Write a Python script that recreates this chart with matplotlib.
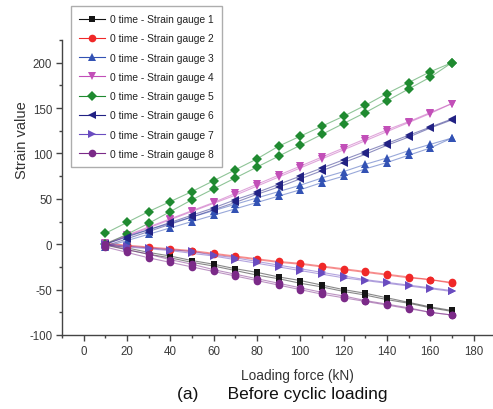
import matplotlib.pyplot as plt
from matplotlib.ticker import MultipleLocator

plt.rcParams['font.family'] = ['Liberation Sans', 'DejaVu Sans']
plt.rcParams['axes.unicode_minus'] = False

# loading force (kN)
force = [10, 20, 30, 40, 50, 60, 70, 80, 90, 100, 110, 120, 130, 140, 150, 160, 170]

# two runs per gauge (first pass / second pass)
g1_a = [0, -4, -9, -13, -18, -22, -27, -31, -36, -40, -45, -50, -54, -59, -64, -69, -73]
g1_b = [-1, -6, -11, -15, -20, -24, -29, -34, -38, -43, -47, -52, -56, -61, -65, -70, -74]
g2_a = [0, -2, -4, -6, -8, -11, -14, -17, -20, -22, -25, -28, -31, -34, -37, -39, -42]
g2_b = [1, -1, -3, -5, -7, -10, -13, -16, -19, -21, -24, -27, -30, -33, -36, -39, -43]
g3_a = [-3, 4, 11, 18, 25, 32, 39, 46, 53, 60, 68, 75, 83, 90, 98, 106, 117]
g3_b = [0, 9, 16, 23, 30, 37, 44, 51, 58, 65, 73, 80, 88, 95, 103, 110, 117]
g4_a = [0, 9, 18, 27, 36, 45, 54, 64, 74, 84, 94, 104, 114, 124, 134, 144, 155]
g4_b = [1, 10, 19, 28, 37, 46, 56, 66, 76, 86, 96, 106, 116, 126, 135, 145, 155]
g5_a = [0, 11, 23, 36, 49, 61, 73, 85, 97, 109, 121, 133, 145, 158, 171, 184, 200]
g5_b = [12, 24, 36, 47, 58, 70, 82, 94, 108, 119, 130, 141, 153, 166, 178, 190, 200]
g6_a = [-2, 6, 14, 22, 30, 38, 46, 55, 63, 72, 81, 90, 99, 109, 118, 128, 137]
g6_b = [0, 8, 16, 24, 32, 40, 49, 57, 66, 75, 84, 93, 102, 111, 120, 129, 138]
g7_a = [0, -2, -4, -6, -8, -12, -15, -19, -23, -27, -31, -35, -39, -42, -45, -48, -51]
g7_b = [-1, -3, -5, -7, -10, -13, -17, -21, -25, -29, -33, -37, -40, -43, -46, -49, -52]
g8_a = [0, -6, -11, -17, -22, -28, -33, -38, -43, -48, -53, -57, -62, -66, -70, -75, -78]
g8_b = [-3, -9, -15, -20, -25, -30, -35, -40, -45, -50, -55, -59, -63, -67, -71, -75, -78]

labels = ['0 time - Strain gauge %d' % i for i in range(1, 9)]
runs = [(g1_a, g1_b), (g2_a, g2_b), (g3_a, g3_b), (g4_a, g4_b),
        (g5_a, g5_b), (g6_a, g6_b), (g7_a, g7_b), (g8_a, g8_b)]
colors = ['#151515', '#f02828', '#3352b4', '#c24fb8', '#1f8a30', '#222284', '#6a4cc0', '#7b2a88']
markers = ['s', 'o', '^', 'v', 'D', '<', '>', 'o']
msizes = [5, 5.5, 6, 6, 5, 6, 6, 5.5]

fig = plt.figure(figsize=(4.93, 4.10), dpi=100)
ax = fig.add_axes([62/493, 74/410, 431/493, 295/410])

handles = []
for (a, b), c, m, ms, lab in zip(runs, colors, markers, msizes, labels):
    for ys in (a, b):
        ax.plot(force, ys, color=c, alpha=0.5, lw=0.8, zorder=2)
        ax.plot(force, ys, linestyle='none', marker=m, ms=ms, color=c,
                markeredgewidth=0, zorder=3)
    h, = ax.plot([], [], color=c, lw=0.8, marker=m, ms=ms, markeredgewidth=0,
                 label=lab)
    handles.append(h)

ax.set_xticks(range(0, 181, 20))
ax.xaxis.set_minor_locator(MultipleLocator(10))
ax.yaxis.set_major_locator(MultipleLocator(50))
ax.yaxis.set_minor_locator(MultipleLocator(25))
ax.set_xlim(-10, 189)
ax.set_ylim(-100, 225)
ax.spines['top'].set_visible(False)
ax.spines['right'].set_visible(False)
for s in ('left', 'bottom'):
    ax.spines[s].set_color('#444444')
    ax.spines[s].set_linewidth(1.0)
ax.tick_params(which='major', length=4, width=1, color='#444444',
               labelsize=8.3, labelcolor='#3a3a3a', pad=3)
ax.tick_params(which='minor', length=2, width=1, color='#444444')

leg = fig.legend(handles=handles, loc='upper left',
                 bbox_to_anchor=(71/493, 1 - 7/410), bbox_transform=fig.transFigure,
                 fontsize=7.4, frameon=True, fancybox=False, borderaxespad=0,
                 handlelength=2.5, handletextpad=0.45, labelspacing=0.9,
                 borderpad=0.8)
leg.get_frame().set_edgecolor('#999999')
leg.get_frame().set_linewidth(1.0)
for t in leg.get_texts():
    t.set_color('#222222')

fig.text(22/493, 1 - 140/410, 'Strain value', rotation=90, ha='center', va='center',
         fontsize=10.5, color='#333333')
fig.text(297/493, 1 - 376/410, 'Loading force (kN)', ha='center', va='center',
         fontsize=9.8, color='#333333')
fig.text(282/493, 1 - 395/410, '(a)      Before cyclic loading', ha='center', va='center',
         fontsize=12.5, color='#111111')

fig.savefig('out.png', dpi=100)
